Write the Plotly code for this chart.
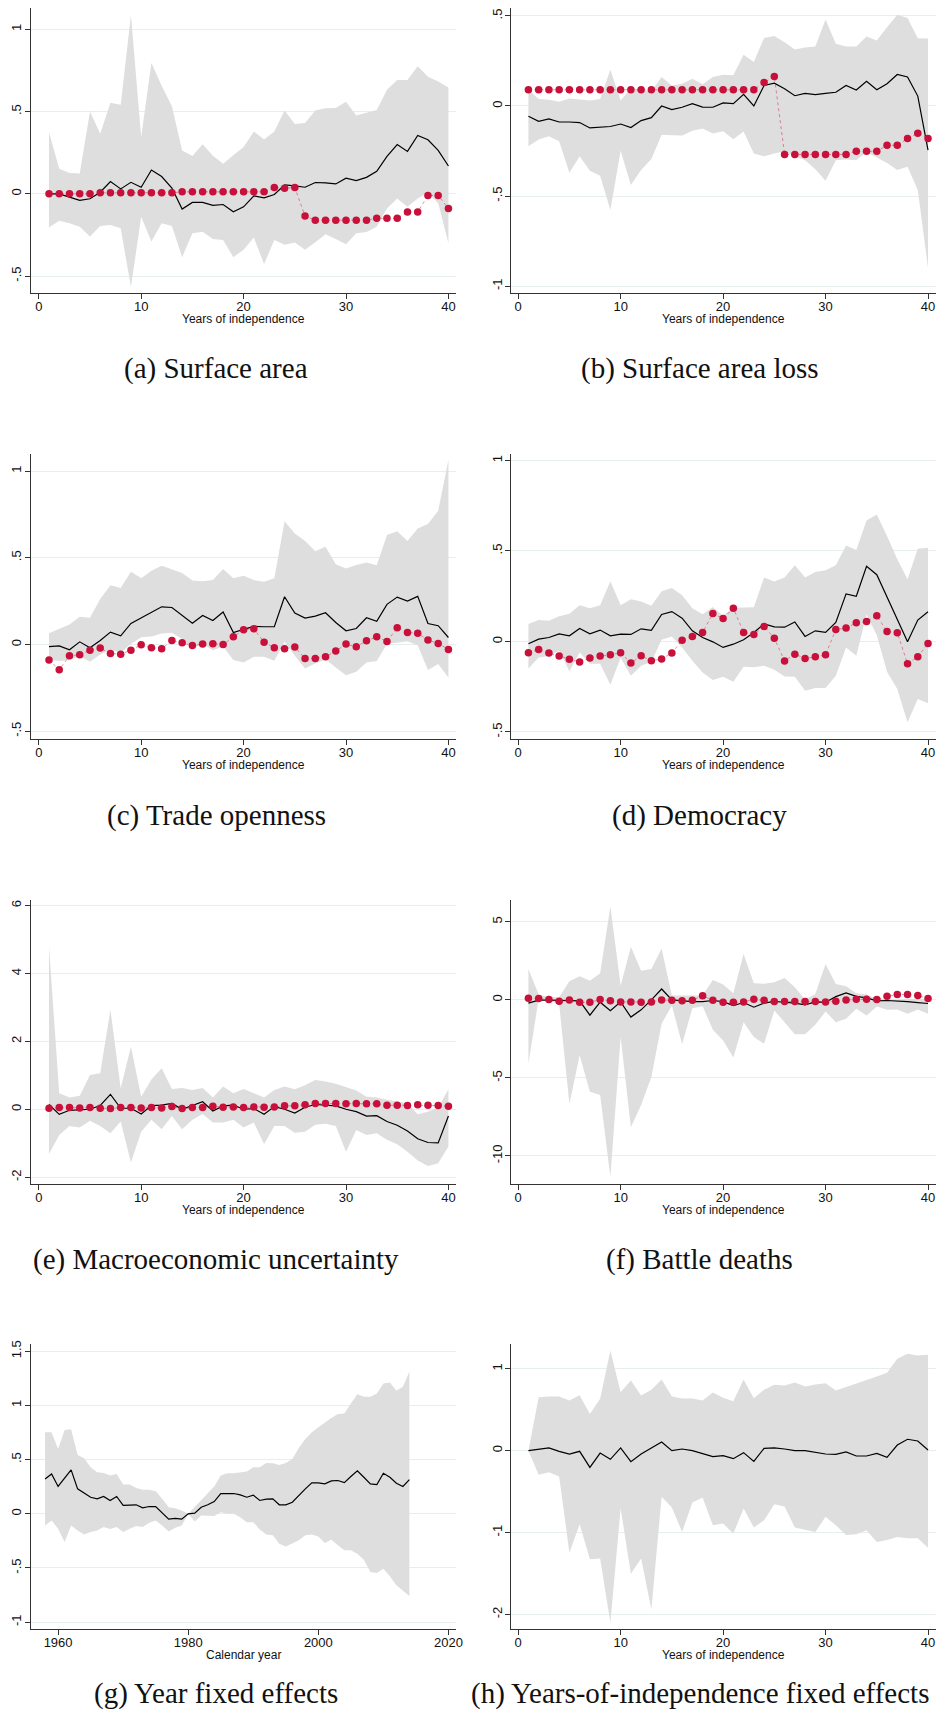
import plotly.graph_objects as go

# ---------------- data ----------------
years_indep = list(range(1, 41))
cal_years = list(range(1958, 2015))

# (a) Surface area
a_coef = [0, 0, -0.02, -0.04, -0.03, 0.01, 0.075, 0.03, 0.07, 0.04, 0.145, 0.105, 0.035, -0.093, -0.052,
          -0.052, -0.07, -0.065, -0.109, -0.079, -0.012, -0.024, -0.004, 0.054, 0.048, 0.04, 0.069, 0.067,
          0.06, 0.095, 0.081, 0.1, 0.137, 0.228, 0.3, 0.258, 0.355, 0.329, 0.264, 0.169]
a_hi = [0.375, 0.153, 0.127, 0.123, 0.5, 0.365, 0.554, 0.542, 1.087, 0.345, 0.796, 0.657, 0.532, 0.264,
        0.23, 0.302, 0.232, 0.183, 0.234, 0.284, 0.379, 0.331, 0.379, 0.506, 0.425, 0.431, 0.506, 0.52,
        0.522, 0.56, 0.476, 0.492, 0.51, 0.633, 0.692, 0.692, 0.776, 0.712, 0.683, 0.647]
a_lo = [-0.204, -0.163, -0.179, -0.2, -0.26, -0.196, -0.19, -0.21, -0.567, -0.139, -0.29, -0.179, -0.196,
        -0.385, -0.24, -0.23, -0.274, -0.28, -0.385, -0.34, -0.266, -0.427, -0.28, -0.31, -0.296, -0.34,
        -0.294, -0.246, -0.274, -0.306, -0.24, -0.232, -0.2, -0.089, -0.028, -0.079, -0.028, 0.006,
        -0.058, -0.3]
a_red = [0, 0, 0, 0, 0, 0.006, 0.006, 0.006, 0.006, 0.006, 0.006, 0.006, 0.006, 0.012, 0.012, 0.012,
         0.012, 0.012, 0.012, 0.012, 0.012, 0.012, 0.038, 0.034, 0.038, -0.135, -0.16, -0.16, -0.16,
         -0.16, -0.16, -0.16, -0.149, -0.149, -0.149, -0.111, -0.111, -0.01, -0.01, -0.089]

# (b) Surface area loss
b_coef = [-0.057, -0.085, -0.072, -0.089, -0.089, -0.092, -0.122, -0.116, -0.114, -0.1, -0.12, -0.081,
          -0.065, 0, -0.02, -0.007, 0.013, -0.006, -0.007, 0.017, 0.013, 0.065, 0, 0.114, 0.127, 0.096,
          0.057, 0.07, 0.063, 0.07, 0.076, 0.114, 0.089, 0.137, 0.09, 0.124, 0.175, 0.161, 0.055, -0.245]
b_hi = [0.09, 0.039, 0.035, 0.024, 0.041, 0.035, 0.031, 0.039, 0.201, 0.031, 0.1, 0.09, 0.083, 0.161,
        0.114, 0.124, 0.151, 0.12, 0.161, 0.173, 0.17, 0.284, 0.244, 0.378, 0.389, 0.354, 0.314, 0.325,
        0.33, 0.48, 0.345, 0.33, 0.33, 0.386, 0.363, 0.437, 0.506, 0.489, 0.376, 0.375]
b_lo = [-0.223, -0.186, -0.168, -0.196, -0.371, -0.279, -0.36, -0.387, -0.577, -0.249, -0.439, -0.356,
        -0.295, -0.159, -0.162, -0.164, -0.138, -0.125, -0.153, -0.14, -0.185, -0.142, -0.264, -0.279,
        -0.264, -0.251, -0.279, -0.301, -0.351, -0.415, -0.301, -0.297, -0.301, -0.255, -0.286, -0.316,
        -0.356, -0.338, -0.467, -0.9]
b_red = [0.09] * 23 + [0.131, 0.164] + [-0.269] * 7 + [-0.251, -0.251, -0.251, -0.218, -0.218, -0.181,
                                                      -0.151, -0.181]

# (c) Trade openness
c_coef = [-0.012, -0.008, -0.031, 0.015, -0.019, 0.023, 0.071, 0.05, 0.121, 0.152, 0.185, 0.217, 0.213,
          0.169, 0.123, 0.167, 0.138, 0.187, 0.069, 0.087, 0.104, 0.102, 0.102, 0.275, 0.181, 0.152, 0.163,
          0.183, 0.127, 0.079, 0.092, 0.154, 0.133, 0.231, 0.273, 0.25, 0.277, 0.121, 0.108, 0.04]
c_hi = [0.065, 0.092, 0.115, 0.16, 0.154, 0.262, 0.342, 0.325, 0.419, 0.381, 0.425, 0.454, 0.435, 0.412,
        0.369, 0.365, 0.371, 0.435, 0.381, 0.396, 0.371, 0.362, 0.381, 0.71, 0.64, 0.596, 0.537, 0.563,
        0.463, 0.438, 0.458, 0.473, 0.456, 0.631, 0.652, 0.596, 0.669, 0.694, 0.771, 1.065]
c_lo = [-0.088, -0.096, -0.09, -0.067, -0.1, -0.058, -0.031, -0.046, 0.002, 0.042, 0.046, 0.063, 0.067,
        0.031, -0.023, 0.002, -0.033, -0.012, -0.09, -0.104, -0.071, -0.071, -0.094, 0.015, -0.065,
        -0.138, -0.11, -0.085, -0.133, -0.177, -0.158, -0.104, -0.096, 0.002, 0.012, 0.019, -0.004,
        -0.148, -0.112, -0.19]
c_red = [-0.09, -0.146, -0.065, -0.06, -0.033, -0.021, -0.052, -0.056, -0.033, -0.002, -0.019, -0.025,
         0.023, 0.01, -0.006, 0.002, 0.004, 0, 0.044, 0.085, 0.09, 0.013, -0.019, -0.025, -0.015, -0.081,
         -0.081, -0.071, -0.038, 0.002, -0.013, 0.021, 0.044, 0.017, 0.096, 0.069, 0.065, 0.025, 0.006,
         -0.029]

# (d) Democracy
d_coef = [-0.013, 0.013, 0.022, 0.042, 0.031, 0.072, 0.042, 0.063, 0.031, 0.04, 0.039, 0.07, 0.061,
          0.149, 0.165, 0.129, 0.059, 0.022, -0.002, -0.033, -0.015, 0.009, 0.05, 0.097, 0.081, 0.079,
          0.108, 0.028, 0.059, 0.05, 0.105, 0.263, 0.25, 0.415, 0.369, 0.243, 0.119, -0.002, 0.118, 0.164]
d_hi = [0.096, 0.118, 0.114, 0.14, 0.153, 0.2, 0.184, 0.2, 0.333, 0.2, 0.233, 0.221, 0.197, 0.278, 0.296,
        0.256, 0.184, 0.151, 0.191, 0.142, 0.186, 0.189, 0.189, 0.353, 0.331, 0.353, 0.421, 0.353, 0.384,
        0.393, 0.421, 0.531, 0.506, 0.669, 0.702, 0.583, 0.454, 0.344, 0.513, 0.518]
d_lo = [-0.149, -0.088, -0.081, -0.051, -0.165, -0.061, -0.123, -0.123, -0.239, -0.09, -0.189, -0.134,
        -0.112, 0.009, 0.028, -0.033, -0.107, -0.171, -0.213, -0.195, -0.222, -0.14, -0.143, -0.134,
        -0.156, -0.193, -0.195, -0.272, -0.257, -0.257, -0.189, -0.033, -0.079, 0.151, 0.035, -0.167,
        -0.263, -0.447, -0.318, -0.342]
d_red = [-0.063, -0.044, -0.064, -0.081, -0.099, -0.114, -0.092, -0.081, -0.074, -0.063, -0.119, -0.079,
         -0.107, -0.097, -0.064, 0.007, 0.028, 0.05, 0.154, 0.127, 0.184, 0.05, 0.039, 0.083, 0.018,
         -0.108, -0.07, -0.094, -0.085, -0.074, 0.066, 0.074, 0.103, 0.11, 0.142, 0.055, 0.048, -0.123,
         -0.085, -0.011]

# (e) Macroeconomic uncertainty
e_coef = [0.14, -0.15, -0.03, -0.02, 0, 0.11, 0.44, 0.03, 0.03, -0.14, 0.11, 0.12, 0.17, 0, 0.12, 0.22,
          -0.05, 0.1, 0.12, 0, 0.02, -0.15, 0.08, 0, -0.11, 0.06, 0.14, 0.11, 0.1, 0, -0.07, -0.2, -0.19,
          -0.36, -0.47, -0.64, -0.87, -0.98, -0.99, -0.2]
e_hi = [4.8, 0.47, 0.35, 0.4, 1.01, 1.06, 2.93, 0.62, 1.85, 0.37, 0.88, 1.21, 0.6, 0.63, 0.57, 0.63, 0.35,
        0.67, 0.47, 0.6, 0.47, 0.35, 0.57, 0.67, 0.59, 0.71, 0.86, 0.82, 0.75, 0.64, 0.55, 0.37, 0.35,
        0.28, 0.23, 0.18, -0.15, -0.07, 0.05, 0.59]
e_lo = [-1.32, -0.76, -0.49, -0.54, -0.34, -0.49, -0.71, -0.36, -1.57, -0.66, -0.31, -0.59, -0.2, -0.59,
        -0.31, -0.14, -0.39, -0.39, -0.31, -0.54, -0.39, -1.03, -0.49, -0.49, -0.69, -0.66, -0.46, -0.43,
        -0.49, -1.25, -0.61, -0.76, -0.71, -0.9, -1.03, -1.25, -1.51, -1.67, -1.59, -1.1]
e_red = [0.03, 0.05, 0.05, 0.04, 0.05, 0.03, 0.02, 0.05, 0.05, 0.04, 0.05, 0.04, 0.08, 0.02, 0.05, 0.05,
         0.09, 0.06, 0.07, 0.05, 0.07, 0.06, 0.07, 0.1, 0.1, 0.13, 0.17, 0.17, 0.17, 0.16, 0.17, 0.16,
         0.16, 0.12, 0.12, 0.11, 0.13, 0.12, 0.11, 0.09]

# (f) Battle deaths
f_coef = [-0.21, -0.02, -0.02, -0.04, -0.04, -0.06, -0.98, -0.15, -0.7, -0.13, -1.1, -0.64, 0, 0.7, 0,
          -0.06, -0.11, -0.11, -0.04, -0.11, -0.36, -0.17, -0.47, -0.21, -0.09, -0.15, -0.21, -0.32,
          -0.13, -0.15, 0.21, 0.45, 0.23, 0.13, -0.06, -0.04, -0.06, -0.11, -0.17, -0.23]
f_hi = [1.98, 0.34, 0.17, 0.17, 1.19, 1.51, 1.23, 1.7, 5.98, 0.91, 3.4, 1.87, 1.98, 3.3, 0.28, 0.28, 0.28,
        0.28, 1.28, 0.98, 0.43, 2.94, 1.06, 1.04, 1.13, 1.4, 0.81, 0.02, 0.38, 2.3, 1.02, 0.87, 0.43,
        0.34, 0.06, 0.06, 0, 0.06, 0.06, 0.06]
f_lo = [-4.09, 0.06, -0.04, -0.26, -6.68, -3.55, -5.89, -6.1, -11.36, -2.38, -8.17, -6.74, -4.94, -1.53,
        -0.36, -2.85, -0.53, -0.4, -1.91, -2.6, -3.7, -1.43, -2.38, -2.81, -0.68, -1.43, -2.21, -2.21,
        -1.6, -0.74, -1.43, -1.21, -0.57, -1.0, -0.43, -0.64, -0.62, -0.89, -0.62, -0.89]
f_red = [0.11, 0.09, 0.02, -0.09, 0, -0.15, -0.15, 0.02, -0.06, -0.13, -0.13, -0.15, -0.13, 0, -0.02,
         -0.06, -0.02, 0.26, -0.02, -0.15, -0.15, -0.13, 0.04, -0.02, -0.11, -0.11, -0.11, -0.11, -0.11,
         -0.13, -0.09, 0, 0.04, 0.04, 0.02, 0.23, 0.34, 0.34, 0.28, 0.09]

# (g) Year fixed effects
g_coef = [0.322, 0.368, 0.252, 0.328, 0.405, 0.23, 0.193, 0.153, 0.138, 0.16, 0.123, 0.16, 0.077, 0.077,
          0.083, 0.055, 0.067, 0.067, 0.006, -0.049, -0.043, -0.049, 0, 0.006, 0.061, 0.083, 0.113, 0.187,
          0.187, 0.187, 0.175, 0.153, 0.172, 0.123, 0.135, 0.138, 0.083, 0.083, 0.107, 0.172, 0.23, 0.285,
          0.285, 0.276, 0.304, 0.307, 0.288, 0.344, 0.396, 0.337, 0.276, 0.27, 0.374, 0.337, 0.282, 0.252,
          0.316]
g_hi = [0.752, 0.752, 0.598, 0.773, 0.779, 0.543, 0.512, 0.429, 0.383, 0.377, 0.353, 0.368, 0.27, 0.27,
        0.239, 0.221, 0.221, 0.209, 0.138, 0.061, 0.052, 0.031, 0, 0.061, 0.129, 0.184, 0.252, 0.353,
        0.374, 0.374, 0.383, 0.39, 0.429, 0.429, 0.469, 0.466, 0.451, 0.469, 0.506, 0.607, 0.69, 0.752,
        0.798, 0.844, 0.883, 0.92, 0.926, 1.018, 1.104, 1.08, 1.08, 1.11, 1.202, 1.212, 1.135, 1.172,
        1.313]
g_lo = [-0.107, -0.061, -0.138, -0.261, -0.107, -0.153, -0.19, -0.169, -0.153, -0.123, -0.141, -0.123,
        -0.169, -0.138, -0.113, -0.123, -0.083, -0.061, -0.107, -0.163, -0.129, -0.107, 0, -0.071,
        -0.015, -0.021, -0.021, 0.015, 0, 0, -0.031, -0.077, -0.077, -0.144, -0.19, -0.199, -0.276,
        -0.301, -0.27, -0.245, -0.199, -0.19, -0.209, -0.27, -0.239, -0.291, -0.337, -0.337, -0.368,
        -0.423, -0.537, -0.546, -0.506, -0.577, -0.66, -0.712, -0.758]

# (h) Years-of-independence fixed effects
h_coef = [0, 0.02, 0.033, -0.008, -0.041, -0.008, -0.204, -0.029, -0.106, 0.033, -0.135, -0.041, 0.033,
          0.106, 0, 0.02, 0, -0.041, -0.073, -0.061, -0.098, -0.024, -0.131, 0.029, 0.033, 0.02, 0, 0,
          -0.024, -0.041, -0.045, -0.016, -0.065, -0.065, -0.033, -0.082, 0.069, 0.139, 0.118, 0.008]
h_hi = [0, 0.653, 0.661, 0.661, 0.612, 0.678, 0.449, 0.633, 1.224, 0.714, 0.857, 0.673, 0.743, 0.869,
        0.661, 0.637, 0.637, 0.612, 0.71, 0.645, 0.604, 0.869, 0.641, 0.743, 0.804, 0.796, 0.833, 0.784,
        0.808, 0.824, 0.735, 0.776, 0.816, 0.857, 0.906, 0.951, 1.122, 1.184, 1.163, 1.171]
h_lo = [0, -0.294, -0.265, -0.314, -1.245, -0.898, -1.327, -1.318, -2.102, -0.706, -1.502, -1.318,
        -1.939, -0.563, -0.694, -0.992, -0.633, -0.571, -0.91, -0.89, -1.012, -0.706, -0.939, -0.849,
        -0.653, -0.682, -0.939, -0.967, -0.992, -0.808, -0.91, -1.029, -1.02, -0.971, -1.114, -1.09,
        -1.053, -1.069, -1.069, -1.184]

captions = ["(a) Surface area", "(b) Surface area loss", "(c) Trade openness", "(d) Democracy",
            "(e) Macroeconomic uncertainty", "(f) Battle deaths", "(g) Year fixed effects",
            "(h) Years-of-independence fixed effects"]
x_titles = ["Years of independence"] * 6 + ["Calendar year", "Years of independence"]

xt_indep = [0, 10, 20, 30, 40]
xt_year = [1960, 1980, 2000, 2020]
yt_a = [-0.5, 0, 0.5, 1]; yl_a = ["-.5", "0", ".5", "1"]
yt_b = [-1, -0.5, 0, 0.5]; yl_b = ["-1", "-.5", "0", ".5"]
yt_c = [-0.5, 0, 0.5, 1]; yl_c = ["-.5", "0", ".5", "1"]
yt_d = [-0.5, 0, 0.5, 1]; yl_d = ["-.5", "0", ".5", "1"]
yt_e = [-2, 0, 2, 4, 6]; yl_e = ["-2", "0", "2", "4", "6"]
yt_f = [-10, -5, 0, 5]; yl_f = ["-10", "-5", "0", "5"]
yt_g = [-1, -0.5, 0, 0.5, 1, 1.5]; yl_g = ["-1", "-.5", "0", ".5", "1", "1.5"]
yt_h = [-2, -1, 0, 1]; yl_h = ["-2", "-1", "0", "1"]

# ---------------- layout / styles ----------------
W, H = 946, 1724
BAND = "#DEDEDE"
RED = "#C8103A"
GRID = "#E6EEF0"
AXC = "#333333"
SANS = "Liberation Sans, Arial"

rows_px = [(4, 290), (450.7, 736.7), (898.3, 1183), (1343.3, 1629)]
cols_px = [(31, 459), (514.7, 943)]
cap_y = [365, 813, 1258.5, 1693]
cap_x = [218, 705]
XTITLE_OFF = 26

panels = [
    (years_indep, a_coef, a_lo, a_hi, a_red, [-0.78, 40.7], [-0.605, 1.13], xt_indep, yt_a, yl_a),
    (years_indep, b_coef, b_lo, b_hi, b_red, [-0.71, 40.78], [-1.04, 0.544], xt_indep, yt_b, yl_b),
    (years_indep, c_coef, c_lo, c_hi, c_red, [-0.78, 40.7], [-0.545, 1.10], xt_indep, yt_c, yl_c),
    (years_indep, d_coef, d_lo, d_hi, d_red, [-0.71, 40.78], [-0.539, 1.038], xt_indep, yt_d, yl_d),
    (years_indep, e_coef, e_lo, e_hi, e_red, [-0.78, 40.7], [-2.21, 6.16], xt_indep, yt_e, yl_e),
    (years_indep, f_coef, f_lo, f_hi, f_red, [-0.71, 40.78], [-11.82, 6.39], xt_indep, yt_f, yl_f),
    (cal_years, g_coef, g_lo, g_hi, None, [1955.8, 2021.1], [-1.065, 1.565], xt_year, yt_g, yl_g),
    (years_indep, h_coef, h_lo, h_hi, None, [-0.71, 40.78], [-2.18, 1.30], xt_indep, yt_h, yl_h),
]

fig = go.Figure()
layout = dict(width=W, height=H, margin=dict(l=0, r=0, t=0, b=0), showlegend=False,
              paper_bgcolor="white", plot_bgcolor="white", annotations=[])

for i, (xs, coef, lo, hi, red, xr, yr, xtv, ytv, ytl) in enumerate(panels):
    r, c = divmod(i, 2)
    k = i + 1
    xa = "x" if k == 1 else f"x{k}"
    ya = "y" if k == 1 else f"y{k}"
    top, bot = rows_px[r]
    x0, x1 = cols_px[c]

    fig.add_trace(go.Scatter(x=list(xs) + list(xs)[::-1], y=list(hi) + list(lo)[::-1],
                             fill="toself", fillcolor=BAND, line=dict(width=0), mode="lines",
                             hoverinfo="skip", xaxis=xa, yaxis=ya))
    fig.add_trace(go.Scatter(x=xs, y=coef, mode="lines", line=dict(color="black", width=1.2),
                             xaxis=xa, yaxis=ya))
    if red is not None:
        fig.add_trace(go.Scatter(x=xs, y=red, mode="lines+markers",
                                 line=dict(color="rgba(200,16,58,0.45)", width=1, dash="dot"),
                                 marker=dict(color=RED, size=7.5), xaxis=xa, yaxis=ya))

    axis_common = dict(showline=True, linecolor=AXC, linewidth=1.3, ticks="outside", ticklen=5,
                       tickcolor=AXC, tickwidth=1.2, zeroline=False,
                       tickfont=dict(family=SANS, size=13, color="#111"))
    layout["xaxis" if k == 1 else f"xaxis{k}"] = dict(
        axis_common, domain=[x0 / W, x1 / W], anchor=ya, range=xr, tickvals=xtv,
        showgrid=False, ticklabelstandoff=-4)
    layout["yaxis" if k == 1 else f"yaxis{k}"] = dict(
        axis_common, domain=[1 - bot / H, 1 - top / H], anchor=xa, range=yr,
        tickvals=ytv, ticktext=ytl, tickangle=-90, showgrid=True, gridcolor=GRID, gridwidth=1,
        ticklabelstandoff=-2)

    # x-axis title
    layout["annotations"].append(dict(
        text=x_titles[i], xref="paper", yref="paper", x=(x0 + x1) / 2 / W,
        y=1 - (bot + XTITLE_OFF) / H, xanchor="center", yanchor="middle", showarrow=False,
        font=dict(family=SANS, size=12, color="#111")))
    # panel caption
    layout["annotations"].append(dict(
        text=captions[i], xref="paper", yref="paper", x=cap_x[c] / W, y=1 - cap_y[r] / H,
        xanchor="center", yanchor="middle", showarrow=False,
        font=dict(family="Liberation Serif, Times New Roman, serif", size=29, color="#111")))

fig.update_layout(**layout)
fig.write_html("out.html")
